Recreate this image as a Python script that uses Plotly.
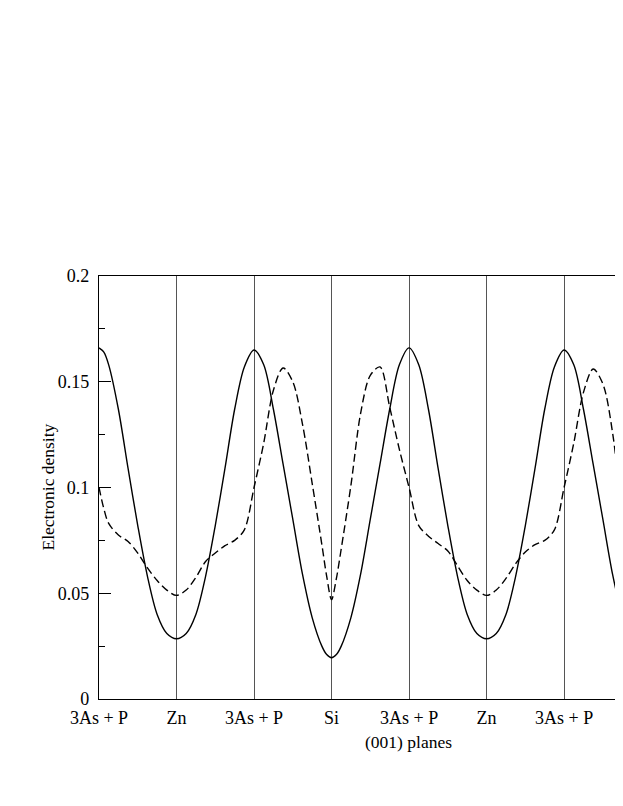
import plotly.graph_objects as go

# plane positions (units of plane spacing) and labels
plane_pos = [0, 1, 2, 3, 4, 5, 6]
plane_labels = ["3As + P", "Zn", "3As + P", "Si", "3As + P", "Zn", "3As + P"]

# sample positions along [001]
x_vals = [0, 0.0625, 0.125, 0.25, 0.375, 0.5, 0.625, 0.75, 0.875,
          1, 1.125, 1.25, 1.375, 1.5, 1.625, 1.75, 1.875,
          2, 2.125, 2.25, 2.375, 2.5, 2.625, 2.75, 2.875, 2.9375,
          3, 3.0625, 3.125, 3.25, 3.375, 3.5, 3.625, 3.75, 3.875,
          4, 4.125, 4.25, 4.375, 4.5, 4.625, 4.75, 4.875,
          5, 5.125, 5.25, 5.375, 5.5, 5.625, 5.75, 5.875,
          6, 6.125, 6.25, 6.375, 6.5, 6.625, 6.76]

solid_density = [0.166, 0.164, 0.158, 0.137, 0.109, 0.082, 0.058, 0.040, 0.031,
                 0.0285, 0.031, 0.040, 0.058, 0.082, 0.109, 0.137, 0.157,
                 0.165, 0.158, 0.137, 0.111, 0.085, 0.059, 0.0385, 0.025, 0.021,
                 0.0195, 0.021, 0.025, 0.0385, 0.059, 0.085, 0.111, 0.137, 0.158,
                 0.166, 0.158, 0.137, 0.109, 0.082, 0.058, 0.040, 0.031,
                 0.0285, 0.031, 0.040, 0.058, 0.082, 0.109, 0.137, 0.157,
                 0.165, 0.158, 0.137, 0.111, 0.085, 0.059, 0.037]

dashed_density = [0.100, 0.090, 0.083, 0.0775, 0.0745, 0.069, 0.062, 0.056, 0.0515,
                  0.049, 0.0515, 0.0575, 0.065, 0.069, 0.0725, 0.075, 0.080,
                  0.100, 0.121, 0.146, 0.1565, 0.150, 0.130, 0.102, 0.073, 0.058,
                  0.047, 0.057, 0.071, 0.101, 0.135, 0.153, 0.157, 0.138, 0.118,
                  0.100, 0.082, 0.077, 0.0735, 0.070, 0.063, 0.056, 0.0515,
                  0.049, 0.0515, 0.057, 0.064, 0.0695, 0.073, 0.075, 0.080,
                  0.100, 0.121, 0.145, 0.156, 0.149, 0.126, 0.082]

FONT = "Liberation Serif, Times New Roman, serif"

# page body has an 8px margin: compensate so the plot lands at the reference spot
W, H = 615, 790
L, T, B = 91, 268, 99
plot_w, plot_h = W - L, H - T - B

fig = go.Figure()
fig.add_trace(go.Scatter(x=x_vals, y=solid_density, mode="lines",
                         line=dict(color="black", width=1.4, shape="spline", smoothing=0.9),
                         showlegend=False, hoverinfo="skip"))
fig.add_trace(go.Scatter(x=x_vals, y=dashed_density, mode="lines",
                         line=dict(color="black", width=1.4, dash="8px,4px", shape="spline", smoothing=0.9),
                         showlegend=False, hoverinfo="skip"))

fig.update_layout(
    width=W, height=H, autosize=False,
    margin=dict(l=L, r=0, t=T, b=B, pad=0),
    plot_bgcolor="white", paper_bgcolor="white",
    font=dict(family=FONT, size=18, color="black"),
    xaxis=dict(range=[0, 6.76], tickvals=plane_pos, ticktext=plane_labels,
               showgrid=True, gridcolor="#555555", gridwidth=1,
               showline=True, linecolor="black", linewidth=1.3, mirror=True,
               ticks="", zeroline=False, ticklabelstandoff=2),
    yaxis=dict(range=[0, 0.2], tickvals=[0, 0.05, 0.1, 0.15, 0.2],
               ticktext=["0", "0.05", "0.1", "0.15", "0.2"],
               showgrid=False, zeroline=False,
               showline=True, linecolor="black", linewidth=1.3, mirror=False,
               ticks="inside", ticklen=12, tickwidth=1, tickcolor="black",
               minor=dict(tickvals=[0.025, 0.075, 0.125, 0.175], ticks="inside",
                          ticklen=6, tickwidth=1, tickcolor="black"),
               ticklabelstandoff=5),
    annotations=[
        dict(text="Electronic density", textangle=-90, xref="paper", yref="paper",
             x=(47 - 99) / plot_w, y=0.5, xanchor="center", yanchor="middle",
             showarrow=False, font=dict(family=FONT, size=17.5)),
        dict(text="(001) planes", xref="paper", yref="paper",
             x=(408 - 99) / plot_w, y=-(742 - 699) / plot_h, xanchor="center", yanchor="middle",
             showarrow=False, font=dict(family=FONT, size=17.5)),
    ],
)

fig.write_html("out.html")
